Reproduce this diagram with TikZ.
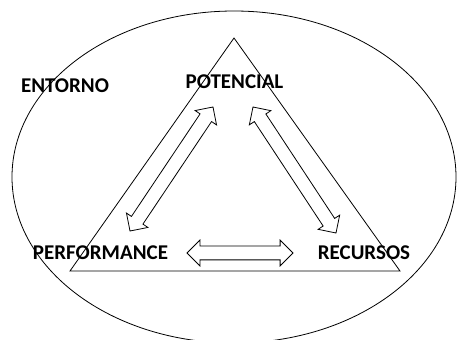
\documentclass[tikz,border=0pt]{standalone}
\usepackage{fontspec}
\setmainfont{Carlito}
\usetikzlibrary{shapes.arrows,shapes.geometric,calc}
\tikzset{
  thin line/.style={draw=black, line width=0.8pt},
  lbl/.style={font=\fontsize{21}{21}\selectfont\bfseries, inner sep=0pt, text=black},
  dblarrow/.style={double arrow, draw=black, fill=white, line width=0.8pt,
    inner xsep=0pt, inner ysep=6.5pt, double arrow head extend=6pt,
    double arrow tip angle=90, minimum width=25pt},
}
\begin{document}
\begin{tikzpicture}[x=1pt,y=1pt]
\useasboundingbox (0,0) rectangle (458,340);
\clip (0,0) rectangle (458,340);
\fill[white] (0,0) rectangle (458,340);
% environment ellipse
\node[thin line, ellipse, minimum width=444pt, minimum height=332pt, inner sep=0pt] (env) at (234,163) {};
% triangle
\coordinate (apex) at (234,302);
\coordinate (bl) at (70,69);
\coordinate (br) at (400,69);
\draw[thin line] (apex) -- (bl) -- (br) -- cycle;
% labels
\node[lbl] (entorno) at (65,254) {ENTORNO};
\node[lbl] (pot) at (234.5,258) {POTENCIAL};
\node[lbl] (perf) at (100.5,87) {PERFORMANCE};
\node[lbl] (rec) at (364,87) {RECURSOS};
% arrow ends
\coordinate (a1s) at (130,109);
\coordinate (a1e) at (213,233);
\coordinate (a2s) at (253,233);
\coordinate (a2e) at (336,107);
\coordinate (a3s) at (187,87);
\coordinate (a3e) at (293,87);
\foreach \s/\e in {a1s/a1e, a2s/a2e, a3s/a3e}{
  \path let \p1=($(\e)-(\s)$), \n1={veclen(\x1,\y1)} in
    (\s) -- (\e) node[midway, sloped, dblarrow, minimum height=\n1] {};
}
\end{tikzpicture}
\end{document}
